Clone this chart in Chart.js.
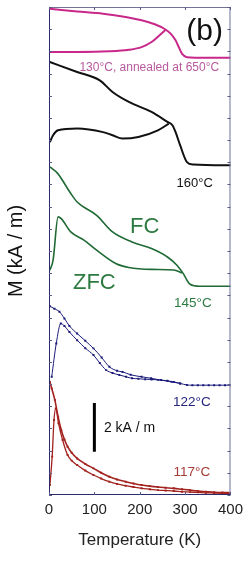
<!DOCTYPE html>
<html>
<head>
<meta charset="utf-8">
<script src="https://cdn.jsdelivr.net/npm/chart.js@4.4.1/dist/chart.umd.min.js"></script>
<style>
  html, body { margin: 0; padding: 0; background: #fff; }
  #wrap { width: 249px; height: 566px; }
</style>
</head>
<body>
<div id="wrap"><canvas id="myChart" width="249" height="566"></canvas></div>
<script>
// Temperatures in K, magnetisation in kA/m (each sample stacked with its own offset)
const pinkFcT  = [2, 62, 119, 169, 204, 233, 254, 268, 279, 286, 293, 304, 346, 403];
const pinkFcM  = [21.92, 21.80, 21.70, 21.55, 21.40, 21.22, 21.02, 20.80, 20.50, 20.19, 19.90, 19.74, 19.71, 19.71];
const pinkZfcT = [2, 62, 133, 176, 204, 226, 243, 257];
const pinkZfcM = [19.97, 19.97, 20.00, 20.07, 20.19, 20.42, 20.72, 20.97];

const blackFcT  = [2, 62, 112, 140, 176, 226, 261, 272, 279, 289, 304, 318, 403];
const blackFcM  = [19.52, 19.07, 18.69, 18.17, 17.72, 17.27, 16.82, 16.67, 16.36, 15.77, 15.01, 14.90, 14.86];
const blackZfcT = [2, 9, 20, 62, 119, 140, 162, 197, 240, 264];
const blackZfcM = [15.91, 16.22, 16.44, 16.52, 16.36, 16.22, 16.07, 16.14, 16.44, 16.74];

const greenFcT  = [2, 19, 48, 62, 105, 140, 183, 226, 261, 282, 296, 311, 332, 403];
const greenFcM  = [14.79, 14.50, 13.59, 13.21, 12.61, 11.86, 11.41, 11.11, 10.73, 10.36, 9.98, 9.50, 9.41, 9.41];
const greenZfcT = [2, 9, 20, 27, 48, 77, 105, 147, 176, 226, 275, 293];
const greenZfcM = [10.14, 10.59, 12.54, 12.46, 11.86, 11.49, 11.04, 10.44, 10.26, 10.17, 10.14, 10.01];

const blueFcT  = [2, 12, 23, 34, 45, 62, 80, 98, 116, 133, 150, 162, 180, 204, 225, 247, 270, 289, 304, 316, 328, 340, 352, 364, 376, 388, 400];
const blueFcM  = [8.51, 8.40, 8.26, 7.96, 7.62, 7.28, 6.95, 6.61, 6.20, 5.78, 5.60, 5.55, 5.42, 5.33, 5.26, 5.18, 5.10, 5.03, 4.96, 4.95, 4.95, 4.95, 4.95, 4.95, 4.95, 4.95, 4.95];
const blueZfcT = [6, 16, 26, 34, 45, 62, 80, 98, 112, 126, 140, 155, 170, 183, 197, 212, 226, 240, 261, 275, 289];
const blueZfcM = [5.33, 6.83, 7.73, 7.62, 7.35, 6.98, 6.62, 6.31, 5.95, 5.63, 5.50, 5.41, 5.33, 5.26, 5.24, 5.22, 5.21, 5.19, 5.15, 5.10, 5.03];

const redFcT  = [2, 6, 13, 20, 27, 34, 41, 50, 62, 80, 98, 115, 133, 150, 169, 186, 204, 222, 240, 257, 275, 293, 311, 328, 346, 364, 382, 400];
const redFcM  = [5.10, 4.80, 4.28, 3.53, 2.93, 2.50, 2.18, 1.90, 1.65, 1.40, 1.20, 1.00, 0.82, 0.70, 0.60, 0.52, 0.45, 0.40, 0.36, 0.33, 0.30, 0.26, 0.22, 0.18, 0.15, 0.12, 0.11, 0.10];
const redZfcT = [2, 7, 11, 15, 21, 30, 41, 50, 62, 80, 98, 115, 133, 150, 169, 186, 204, 222, 240, 257, 275, 293, 311, 328, 346, 364, 382, 400];
const redZfcM = [0.45, 1.73, 3.38, 3.90, 3.23, 2.48, 1.80, 1.55, 1.35, 1.10, 0.90, 0.74, 0.60, 0.50, 0.42, 0.36, 0.30, 0.26, 0.22, 0.20, 0.18, 0.15, 0.13, 0.12, 0.10, 0.09, 0.08, 0.08];

// the "2 kA / m" scale bar
const scaleBarT = [100, 100];
const scaleBarM = [1.95, 4.15];

const xTicks = [0, 100, 200, 300, 400];
const curveLabels = ['(b)', '130°C, annealed at 650°C', '160°C', 'FC', 'ZFC', '145°C', '122°C', '117°C', '2 kA / m'];

function pts(ts, ms) {
    return ts.map((t, i) => ({ x: t, y: ms[i] }));
}

function lineSet(ts, ms, color, width) {
    return {
        data: pts(ts, ms),
        borderColor: color,
        backgroundColor: color,
        borderWidth: width,
        pointRadius: 0,
        cubicInterpolationMode: 'monotone',
        fill: false
    };
}

function dotSet(ts, ms, color, width) {
    return {
        data: pts(ts, ms),
        borderColor: color,
        backgroundColor: color,
        borderWidth: width,
        pointStyle: 'rect',
        pointRadius: 1.4,
        pointBorderWidth: 0,
        cubicInterpolationMode: 'monotone',
        fill: false
    };
}

// box round the plot, with short inward ticks on all four sides
const frameAndTicks = {
    id: 'frameAndTicks',
    afterDatasetsDraw(chart) {
        const { ctx, chartArea: a, scales } = chart;
        ctx.save();
        ctx.lineWidth = 1;
        ctx.strokeStyle = '#72729a';
        ctx.strokeRect(a.left + 0.5, a.top + 0.5, a.right - a.left - 1, a.bottom - a.top - 1);
        ctx.strokeStyle = '#2c2c6c';
        ctx.beginPath();
        ctx.moveTo(a.left + 0.5, a.top);
        ctx.lineTo(a.left + 0.5, a.bottom - 0.5);
        ctx.lineTo(a.right, a.bottom - 0.5);
        ctx.stroke();
        ctx.strokeStyle = '#5a5a88';
        ctx.beginPath();
        scales.y.ticks.forEach(t => {
            const py = Math.round(scales.y.getPixelForValue(t.value)) + 0.5;
            ctx.moveTo(a.left, py); ctx.lineTo(a.left + 3, py);
            ctx.moveTo(a.right, py); ctx.lineTo(a.right - 3, py);
        });
        scales.x.ticks.forEach(t => {
            const px = Math.round(scales.x.getPixelForValue(t.value)) + 0.5;
            ctx.moveTo(px, a.bottom); ctx.lineTo(px, a.bottom - 3);
            ctx.moveTo(px, a.top); ctx.lineTo(px, a.top + 3);
        });
        ctx.stroke();
        ctx.restore();
    }
};

// curve names, panel letter and the scale bar caption
const curveNotes = {
    id: 'curveNotes',
    afterDatasetsDraw(chart) {
        const { ctx, scales } = chart;
        const place = [
            { t: 343, m: 20.9, size: 30, color: '#111', align: 'center' },
            { t: 221, m: 19.28, size: 12, color: '#b85a9e', align: 'center' },
            { t: 321, m: 14.05, size: 13, color: '#111', align: 'center' },
            { t: 211, m: 12.07, size: 22, color: '#2d7a40', align: 'center' },
            { t: 100, m: 9.55, size: 22, color: '#2d7a40', align: 'center' },
            { t: 317, m: 8.65, size: 13.5, color: '#2d7a40', align: 'center' },
            { t: 315, m: 4.19, size: 13.5, color: '#25257f', align: 'center' },
            { t: 315, m: 1.04, size: 13.5, color: '#a53a36', align: 'center' },
            { t: 121, m: 3.02, size: 14, color: '#111', align: 'left' }
        ];
        ctx.save();
        ctx.textBaseline = 'middle';
        curveLabels.forEach((txt, i) => {
            const p = place[i];
            ctx.font = p.size + 'px "Liberation Sans", Arial, sans-serif';
            ctx.fillStyle = p.color;
            ctx.textAlign = p.align;
            ctx.fillText(txt, scales.x.getPixelForValue(p.t), scales.y.getPixelForValue(p.m));
        });
        ctx.restore();
    }
};

const ctx = document.getElementById('myChart').getContext('2d');
new Chart(ctx, {
    type: 'line',
    data: {
        datasets: [
            lineSet(pinkFcT, pinkFcM, '#c8288a', 2),
            lineSet(pinkZfcT, pinkZfcM, '#c8288a', 2),
            lineSet(blackFcT, blackFcM, '#111111', 2),
            lineSet(blackZfcT, blackZfcM, '#111111', 2),
            lineSet(greenFcT, greenFcM, '#1f6a35', 1.6),
            lineSet(greenZfcT, greenZfcM, '#1f6a35', 1.6),
            dotSet(blueFcT, blueFcM, '#1b1b7a', 1),
            dotSet(blueZfcT, blueZfcM, '#1b1b7a', 1),
            dotSet(redFcT, redFcM, '#a3231f', 1.6),
            dotSet(redZfcT, redZfcM, '#a3231f', 1.3),
            { data: pts(scaleBarT, scaleBarM), borderColor: '#000', borderWidth: 3, pointRadius: 0, fill: false }
        ]
    },
    options: {
        responsive: false,
        animation: false,
        layout: { padding: { top: 7, right: 12, left: 0, bottom: 0 } },
        plugins: { legend: { display: false }, tooltip: { enabled: false } },
        scales: {
            x: {
                type: 'linear',
                min: 0,
                max: 400,
                afterBuildTicks: scale => { scale.ticks = xTicks.map(v => ({ value: v })); },
                grid: { display: false, drawTicks: false },
                border: { display: false },
                ticks: {
                    padding: 6,
                    color: '#222',
                    font: { family: '"Liberation Sans", Arial, sans-serif', size: 15 }
                },
                title: {
                    display: true,
                    text: 'Temperature (K)',
                    color: '#222',
                    padding: { top: 0, bottom: 15 },
                    font: { family: '"Liberation Sans", Arial, sans-serif', size: 17 }
                },
                afterFit: scale => { scale.height = 71; }
            },
            y: {
                type: 'linear',
                min: 0,
                max: 22,
                grid: { display: false, drawTicks: false },
                border: { display: false },
                ticks: { display: false, stepSize: 1 },
                title: {
                    display: true,
                    text: 'M (kA / m)',
                    color: '#111',
                    padding: { top: 4, bottom: 0 },
                    font: { family: '"Liberation Sans", Arial, sans-serif', size: 20 }
                },
                afterFit: scale => { scale.width = 49; }
            }
        }
    },
    plugins: [frameAndTicks, curveNotes]
});
</script>
</body>
</html>
